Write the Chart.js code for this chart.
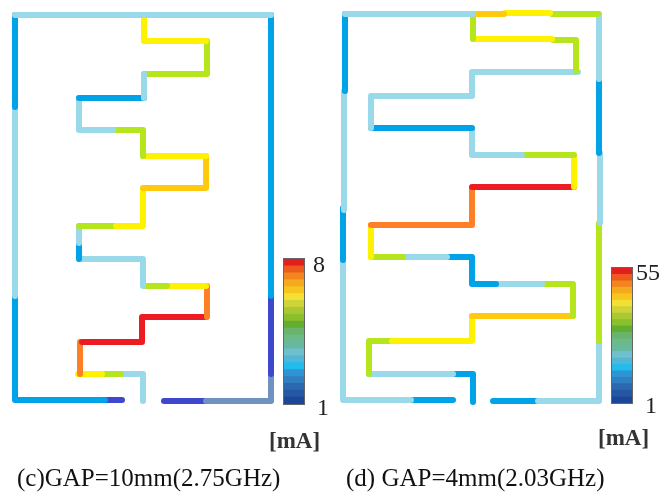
<!DOCTYPE html>
<html>
<head>
<meta charset="utf-8">
<script src="https://cdn.jsdelivr.net/npm/chart.js@4"></script>
<style>
    html, body { margin: 0; padding: 0; background: #fff; overflow: hidden; }
    #page { position: relative; width: 662px; height: 492px; }
    #page canvas { position: absolute; }
    #main { left: 0; top: 0; }
    #barC { left: 284px; top: 259px; outline: 1px solid #666; }
    #barD { left: 612px; top: 268px; outline: 1px solid #666; }
    .txt { position: absolute; font-family: "Liberation Serif", serif; color: #111; white-space: nowrap; line-height: 1; }
    .cap { font-size: 25px; top: 465px; }
    .unit { font-size: 23px; font-weight: bold; color: #333; }
    .tick { font-size: 24px; color: #222; }
</style>
</head>
<body>
<div id="page">
    <canvas id="main" width="662" height="492"></canvas>
    <canvas id="barC" width="20" height="145"></canvas>
    <canvas id="barD" width="20" height="135"></canvas>
    <div class="txt tick" style="left:313px;top:252px">8</div>
    <div class="txt tick" style="left:317px;top:395px">1</div>
    <div class="txt unit" style="left:269px;top:429px">[mA]</div>
    <div class="txt tick" style="left:636px;top:260px">55</div>
    <div class="txt tick" style="left:645px;top:393px">1</div>
    <div class="txt unit" style="left:598px;top:426px">[mA]</div>
    <div class="txt cap" style="left:17px">(c)GAP=10mm(2.75GHz)</div>
    <div class="txt cap" style="left:346px">(d) GAP=4mm(2.03GHz)</div>
</div>
<script>
// current level of each run: 0 lowest .. 8 highest
const levelColors = ['#3f48cc', '#7092be', '#00a2e8', '#99d9ea', '#b5e61d', '#fff200', '#ffc90e', '#ff7f27', '#ed1c24'];

// panel (c) GAP=10mm
const cPaths = [
    [[15, 15], [271, 15]],
    [[15, 15], [15, 107]],
    [[15, 107], [15, 296]],
    [[15, 296], [15, 400], [105, 400]],
    [[105, 400], [122, 400]],
    [[271, 15], [271, 296]],
    [[271, 296], [271, 374]],
    [[271, 374], [271, 401], [206, 401]],
    [[206, 401], [164, 401]],
    [[144, 17], [144, 41], [206, 41]],
    [[144, 74], [144, 98]],
    [[207, 41], [207, 74], [144, 74]],
    [[144, 98], [79, 98]],
    [[79, 98], [79, 130], [113, 130]],
    [[113, 130], [143, 130], [143, 156]],
    [[143, 156], [206, 156]],
    [[206, 156], [206, 188], [143, 188]],
    [[143, 190], [143, 226], [116, 226]],
    [[116, 226], [79, 226]],
    [[79, 226], [79, 243]],
    [[79, 243], [79, 259]],
    [[79, 259], [143, 259], [143, 286]],
    [[146, 286], [167, 286]],
    [[167, 286], [206, 286]],
    [[207, 286], [207, 317]],
    [[205, 317], [142, 317], [142, 342], [82, 342]],
    [[80, 342], [80, 374]],
    [[78, 374], [102, 374]],
    [[102, 374], [121, 374]],
    [[121, 374], [143, 374], [143, 401]]
];
const cLevels = [3, 2, 3, 2, 0, 2, 0, 1, 0, 5, 3, 4, 2, 3, 4, 5, 6, 5, 4, 3, 2, 3, 4, 5, 7, 8, 7, 5, 4, 3];

// panel (d) GAP=4mm
const dPaths = [
    [[345, 14], [473, 14]],
    [[473, 14], [504, 14]],
    [[505, 13], [550, 13]],
    [[552, 14], [598, 14]],
    [[345, 14], [345, 91]],
    [[344, 91], [344, 210]],
    [[343, 208], [343, 260]],
    [[343, 260], [343, 400], [411, 400]],
    [[411, 400], [453, 400]],
    [[599, 14], [599, 79]],
    [[599, 79], [599, 153]],
    [[600, 153], [600, 223]],
    [[599, 223], [599, 341]],
    [[599, 341], [599, 401], [538, 401]],
    [[538, 401], [493, 401]],
    [[473, 16], [473, 39]],
    [[473, 39], [552, 39]],
    [[553, 40], [576, 40], [576, 71]],
    [[578, 72], [472, 72], [472, 96], [371, 96], [371, 128]],
    [[371, 128], [472, 128]],
    [[472, 129], [472, 155], [522, 155]],
    [[522, 155], [574, 155]],
    [[574, 155], [574, 187]],
    [[574, 187], [472, 187]],
    [[472, 189], [472, 225], [371, 225]],
    [[371, 225], [371, 257]],
    [[371, 257], [403, 257]],
    [[403, 257], [447, 257]],
    [[447, 257], [472, 257], [472, 284], [496, 284]],
    [[496, 284], [542, 284]],
    [[542, 284], [573, 284], [573, 316]],
    [[573, 316], [472, 316]],
    [[472, 317], [472, 341], [392, 341]],
    [[392, 341], [369, 341], [369, 374]],
    [[369, 374], [453, 374]],
    [[453, 374], [473, 374], [473, 402]]
];
const dLevels = [3, 6, 5, 4, 2, 3, 2, 3, 2, 3, 2, 3, 4, 3, 2, 4, 5, 4, 3, 2, 3, 4, 5, 8, 7, 5, 4, 3, 2, 3, 4, 6, 5, 4, 3, 2];

// colour bar bands, bottom to top
const barBands = [1, 1, 1, 1, 1, 1, 1, 1, 1, 1, 1, 1, 1, 1, 1, 1, 1, 1, 1, 1, 1];
const barColors = ['#1b479a', '#2657a5', '#2a68b0', '#2f7fc1', '#2d95d5', '#21bbec', '#52b6d6', '#6fc0cc', '#66b8a1', '#6cb98a', '#69b46a', '#62ae2f', '#8bbf2c', '#a9c934', '#ced338', '#f3e032', '#f7c51e', '#f5aa1e', '#f2861e', '#ee5a1e', '#e31e1e'];

function pathDataset(path, level) {
    return {
        data: path.map(p => ({ x: p[0], y: p[1] })),
        showLine: true,
        borderColor: levelColors[level],
        borderWidth: 6,
        borderCapStyle: 'round',
        borderJoinStyle: 'round',
        pointRadius: 0,
        tension: 0
    };
}

new Chart(document.getElementById('main'), {
    type: 'scatter',
    data: {
        datasets: [
            ...cPaths.map((p, i) => pathDataset(p, cLevels[i])),
            ...dPaths.map((p, i) => pathDataset(p, dLevels[i]))
        ]
    },
    options: {
        responsive: false,
        animation: false,
        plugins: { legend: { display: false }, tooltip: { enabled: false } },
        scales: {
            x: { type: 'linear', display: false, min: 0, max: 662 },
            y: { type: 'linear', display: false, min: 0, max: 492, reverse: true }
        }
    }
});

function colorBar(id) {
    new Chart(document.getElementById(id), {
        type: 'bar',
        data: {
            labels: ['mA'],
            datasets: barBands.map((v, i) => ({
                data: [v],
                backgroundColor: barColors[i],
                borderWidth: 0,
                barPercentage: 1,
                categoryPercentage: 1
            }))
        },
        options: {
            responsive: false,
            animation: false,
            plugins: { legend: { display: false }, tooltip: { enabled: false } },
            scales: {
                x: { stacked: true, display: false },
                y: { stacked: true, display: false, min: 0, max: barBands.length }
            }
        }
    });
}
colorBar('barC');
colorBar('barD');
</script>
</body>
</html>
